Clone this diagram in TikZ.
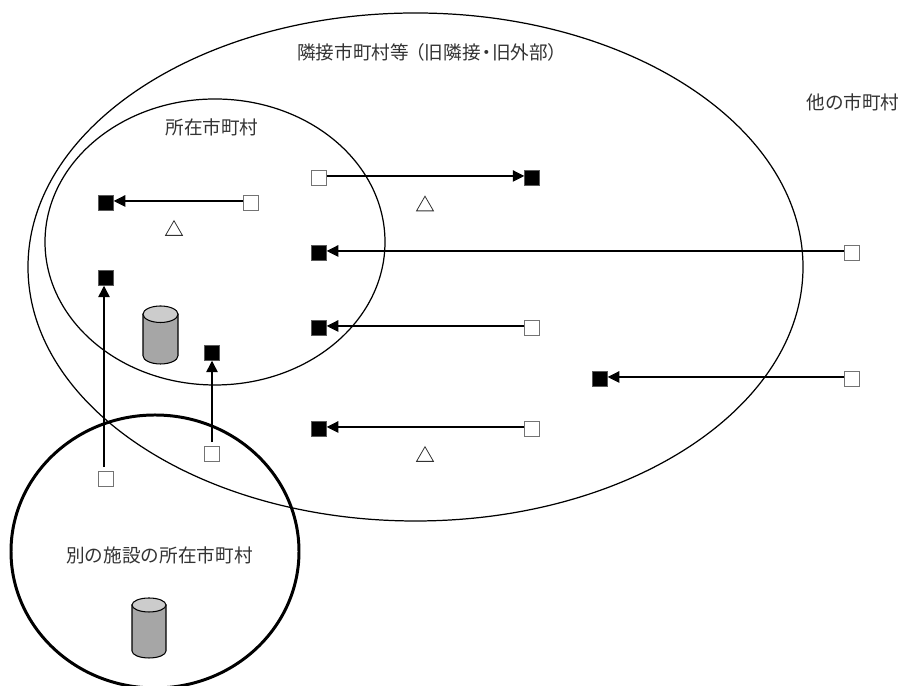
\documentclass[tikz,border=0pt]{standalone}
\usepackage{fontspec}
\usetikzlibrary{arrows.meta,shapes.geometric}
\newfontfamily\cjk{Noto Sans CJK JP}
\tikzset{
  areatext/.style={font=\cjk\fontsize{10.6pt}{12pt}\selectfont, text=black!80, inner sep=0pt},
  opensq/.style={draw=black!55, fill=white, line width=0.7pt, minimum size=0.31cm, inner sep=0pt, outer sep=0pt},
  fullsq/.style={draw=black!65, fill=black, line width=0.3pt, minimum size=0.31cm, inner sep=0pt, outer sep=0pt},
  opentri/.style={draw=black!80, fill=white, line width=0.45pt, regular polygon, regular polygon sides=3, minimum size=0.39cm, inner sep=0pt, outer sep=0pt},
  drumside/.style={draw=black, fill=black!35, line width=0.6pt},
  drumtop/.style={draw=black, fill=black!20, line width=0.6pt},
  flow/.style={-{Triangle[length=0.23cm,width=0.23cm]}, line width=0.6pt},
  riser/.style={flow, line width=0.85pt, shorten <=0.08cm},
}

\begin{document}
\begin{tikzpicture}
  \useasboundingbox (0, 0) rectangle (18.06, 13.72);

  % areas
  \draw[line width=0.7pt] (8.31, 8.38) ellipse [x radius=7.75, y radius=5.08];
  \draw[line width=0.7pt] (4.30, 8.88) ellipse [x radius=3.40, y radius=2.86];
  \draw[line width=1.7pt] (3.10, 2.69) ellipse [x radius=2.88, y radius=2.73];

  \node[areatext, anchor=west] (outerlabel) at (5.94, 12.68) {隣接市町村等\kern-0.15em（旧隣接\kern-0.2em・\kern-0.2em旧外部）};
  \node[areatext] (otherlabel) at (17.06, 11.68) {他の市町村};
  \node[areatext] (innerlabel) at (4.24, 11.18) {所在市町村};
  \node[areatext] (lowerlabel) at (3.19, 2.62) {別の施設の所在市町村};

  % drums
  \draw[drumside] (2.86, 7.435) -- (2.86, 6.605) arc [start angle=180, end angle=360, x radius=0.35, y radius=0.165] -- (3.56, 7.435) -- cycle;
  \draw[drumtop] (3.21, 7.435) ellipse [x radius=0.35, y radius=0.165];
  \draw[drumside] (2.64, 1.62) -- (2.64, 0.70) arc [start angle=180, end angle=360, x radius=0.34, y radius=0.14] -- (3.32, 1.62) -- cycle;
  \draw[drumtop] (2.98, 1.62) ellipse [x radius=0.34, y radius=0.14];

  \node[opentri] (triA) at (3.48, 9.11) {};
  \node[opentri] (triB) at (8.50, 9.60) {};
  \node[opentri] (triC) at (8.50, 4.59) {};

  % start and end marks
  \node[opensq] (fromA) at (5.02, 9.66) {};
  \node[fullsq] (toA) at (2.12, 9.66) {};
  \node[opensq] (fromB) at (6.38, 10.16) {};
  \node[fullsq] (toB) at (10.64, 10.16) {};
  \node[opensq] (fromC) at (17.04, 8.66) {};
  \node[fullsq] (toC) at (6.38, 8.66) {};
  \node[opensq] (fromD) at (10.64, 7.16) {};
  \node[fullsq] (toD) at (6.38, 7.16) {};
  \node[opensq] (fromE) at (17.04, 6.14) {};
  \node[fullsq] (toE) at (12.00, 6.14) {};
  \node[opensq] (fromF) at (10.64, 5.14) {};
  \node[fullsq] (toF) at (6.38, 5.14) {};
  \node[opensq] (fromG) at (2.12, 4.14) {};
  \node[fullsq] (toG) at (2.12, 8.16) {};
  \node[opensq] (fromH) at (4.24, 4.64) {};
  \node[fullsq] (toH) at (4.24, 6.66) {};

  \foreach \n in {A, C, D, E, F}
    \draw[flow] ([yshift=0.04cm]from\n.west) -- ([yshift=0.04cm]to\n.east);
  \draw[flow] ([yshift=0.04cm]fromB.east) -- ([yshift=0.04cm]toB.west);
  \draw[riser] ([xshift=-0.04cm]fromG.north) -- ([xshift=-0.04cm]toG.south);
  \draw[riser] (fromH.north) -- (toH.south);
\end{tikzpicture}
\end{document}
